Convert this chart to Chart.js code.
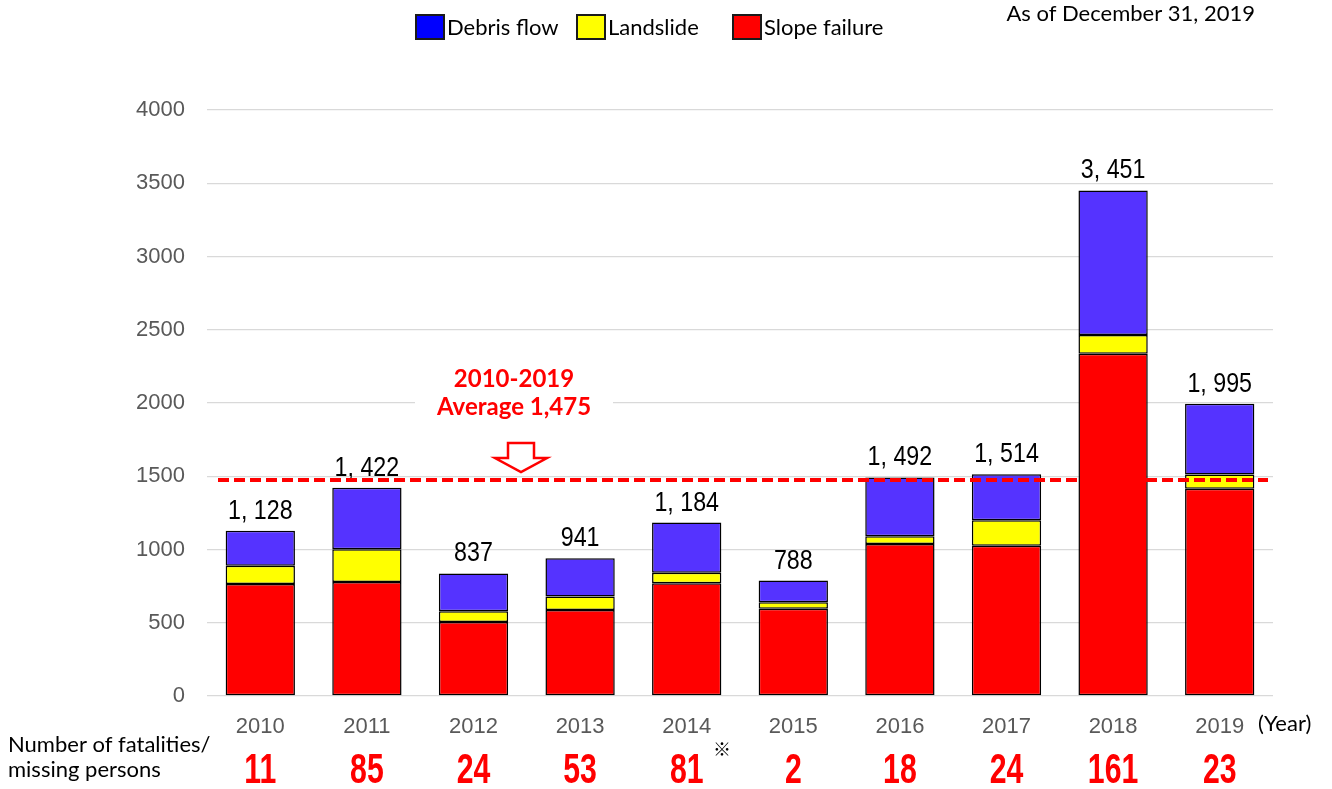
<!DOCTYPE html>
<html>
<head>
<meta charset="utf-8">
<script src="https://cdn.jsdelivr.net/npm/chart.js@4"></script>
<style>
  html, body { margin: 0; padding: 0; background: #fff; }
</style>
</head>
<body>
<canvas id="disasters" width="1332" height="789"></canvas>
<script>
// sediment disasters per year, by type
const years = ['2010', '2011', '2012', '2013', '2014', '2015', '2016', '2017', '2018', '2019'];
const slopeFailure = [764, 778, 505, 587, 769, 596, 1038, 1026, 2337, 1414];
const landslide    = [125, 223,  73,  93,  73,  44,   52,  173,  127,   98];
const debrisFlow   = [239, 421, 259, 261, 342, 148,  402,  315,  987,  483];
const totals       = [1128, 1422, 837, 941, 1184, 788, 1492, 1514, 3451, 1995];
const fatalities   = ['11', '85', '24', '53', '81', '2', '18', '24', '161', '23'];
const averageTotal = 1475;
const yTicks = [0, 500, 1000, 1500, 2000, 2500, 3000, 3500, 4000];

const RED = '#ff0000';
const TICK_GREY = '#595959';
const TEXT_FONT = 'Lato, "Open Sans", sans-serif';

function fmtTotal(n) {
    return n.toLocaleString('en-US').replace(',', ', ');
}

// narrow text: squeeze horizontally around the anchor point
function squeezedText(ctx, text, x, y, sx) {
    ctx.save();
    ctx.translate(x, y);
    ctx.scale(sx, 1);
    ctx.fillText(text, 0, 0);
    ctx.restore();
}

const overlay = {
    id: 'overlay',
    afterDatasetsDraw(chart) {
        const ctx = chart.ctx;
        const x = chart.scales.x, y = chart.scales.y;

        // totals above each stack
        ctx.save();
        ctx.fillStyle = '#000';
        ctx.font = '28px "Liberation Sans", Arial, sans-serif';
        ctx.textAlign = 'center';
        ctx.textBaseline = 'alphabetic';
        totals.forEach((t, i) => {
            squeezedText(ctx, fmtTotal(t), x.getPixelForValue(i), y.getPixelForValue(t) - 12, 0.83);
        });
        ctx.restore();

        // 10-year average line
        const ay = y.getPixelForValue(averageTotal);
        ctx.save();
        ctx.strokeStyle = RED;
        ctx.lineWidth = 4;
        ctx.setLineDash([11, 5]);
        ctx.beginPath();
        ctx.moveTo(chart.chartArea.left + 11, ay);
        ctx.lineTo(chart.chartArea.right - 5, ay);
        ctx.stroke();
        ctx.restore();

        // average caption with white backing and hollow arrow
        const cx = 514;
        ctx.save();
        ctx.fillStyle = '#fff';
        ctx.fillRect(415, 364, 198, 58);
        ctx.fillStyle = RED;
        ctx.font = 'bold 24px ' + TEXT_FONT;
        ctx.textAlign = 'center';
        ctx.textBaseline = 'middle';
        ctx.fillText('2010-2019', cx, 379);
        ctx.fillText('Average 1,475', cx, 407);

        ctx.fillStyle = '#fff';
        ctx.strokeStyle = RED;
        ctx.lineWidth = 2.5;
        ctx.lineJoin = 'miter';
        const ax = 521, top = 443, neck = 458, tip = 472;
        ctx.beginPath();
        ctx.moveTo(ax - 13, top);
        ctx.lineTo(ax + 13, top);
        ctx.lineTo(ax + 13, neck);
        ctx.lineTo(ax + 26, neck);
        ctx.lineTo(ax, tip);
        ctx.lineTo(ax - 26, neck);
        ctx.lineTo(ax - 13, neck);
        ctx.closePath();
        ctx.fill();
        ctx.stroke();
        ctx.restore();
    },
    afterDraw(chart) {
        const ctx = chart.ctx;
        const x = chart.scales.x;

        // legend, top to bottom of the stack
        const items = [
            { label: 'Debris flow', color: '#0000ff', x: 416 },
            { label: 'Landslide', color: '#ffff00', x: 577 },
            { label: 'Slope failure', color: '#ff0000', x: 733 }
        ];
        ctx.save();
        ctx.font = '22px ' + TEXT_FONT;
        ctx.textBaseline = 'middle';
        items.forEach(it => {
            ctx.fillStyle = it.color;
            ctx.fillRect(it.x, 15, 28, 24);
            ctx.strokeStyle = '#1a1a1a';
            ctx.lineWidth = 2;
            ctx.strokeRect(it.x, 15, 28, 24);
            ctx.fillStyle = '#000';
            ctx.fillText(it.label, it.x + 31, 28);
        });

        ctx.font = '22px ' + TEXT_FONT;
        ctx.textAlign = 'right';
        ctx.fillText('As of December 31, 2019', 1255, 14);

        ctx.textAlign = 'left';
        ctx.fillText('(Year)', 1258, 724);
        ctx.fillText('Number of fatalities/', 8, 745);
        ctx.fillText('missing persons', 8, 770);

        // fatalities row under the year ticks
        ctx.fillStyle = RED;
        ctx.font = 'bold 42px "Liberation Sans", Arial, sans-serif';
        ctx.textAlign = 'center';
        ctx.textBaseline = 'alphabetic';
        fatalities.forEach((f, i) => {
            squeezedText(ctx, f, x.getPixelForValue(i), 783, 0.72);
        });
        ctx.fillStyle = '#000';
        ctx.font = '18px "Noto Sans CJK JP", sans-serif';
        ctx.textBaseline = 'middle';
        ctx.fillText('※', 722, 749);
        ctx.restore();
    }
};

const common = {
    borderColor: '#000',
    borderWidth: 1.5,
    borderSkipped: false,
    barPercentage: 0.65,
    categoryPercentage: 1.0
};

new Chart(document.getElementById('disasters'), {
    type: 'bar',
    data: {
        labels: years,
        datasets: [
            Object.assign({ label: 'Slope failure', data: slopeFailure, backgroundColor: '#ff0000' }, common),
            Object.assign({ label: 'Landslide', data: landslide, backgroundColor: '#ffff00' }, common),
            Object.assign({ label: 'Debris flow', data: debrisFlow, backgroundColor: '#5533ff' }, common)
        ]
    },
    options: {
        responsive: false,
        animation: false,
        devicePixelRatio: 1,
        layout: { padding: { top: 110, right: 59, left: 0, bottom: 0 } },
        plugins: {
            legend: { display: false },
            tooltip: { enabled: false }
        },
        scales: {
            x: {
                stacked: true,
                grid: { display: false },
                border: { display: false },
                ticks: {
                    color: TICK_GREY,
                    font: { family: '"Liberation Sans", Arial, sans-serif', size: 22 },
                    padding: 10,
                    maxRotation: 0
                },
                afterFit(s) { s.height = 93; }
            },
            y: {
                stacked: true,
                min: 0,
                max: 4000,
                afterBuildTicks(s) { s.ticks = yTicks.map(v => ({ value: v })); },
                grid: { color: '#d9d9d9', lineWidth: 1.3, drawTicks: false },
                border: { display: false },
                ticks: {
                    color: TICK_GREY,
                    font: { family: '"Liberation Sans", Arial, sans-serif', size: 22 },
                    padding: 22,
                    callback: v => String(v)
                },
                afterFit(s) { s.width = 207; }
            }
        }
    },
    plugins: [overlay]
});
</script>
</body>
</html>
